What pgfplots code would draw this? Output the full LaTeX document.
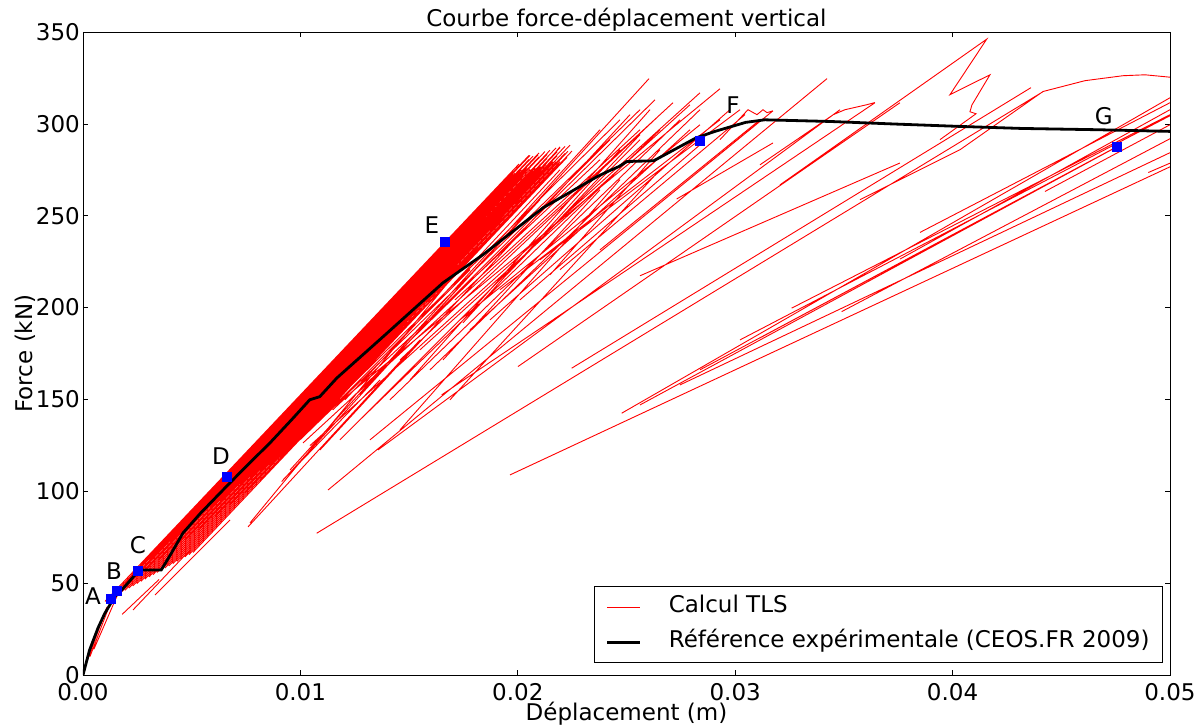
\documentclass[border=0pt]{standalone}
\usepackage{fontspec}
\setmainfont{DejaVu Sans}
\usepackage{pgfplots}
\pgfplotsset{compat=1.18}
\begin{document}
\begin{tikzpicture}[x=1pt,y=1pt]
\useasboundingbox (-83pt,-51pt) rectangle (1118pt,675pt);
\begin{axis}[
 at={(0pt,0pt)}, anchor=south west,
 scale only axis, width=1087pt, height=643pt,
 xmin=0, xmax=0.05, ymin=0, ymax=350,
 xtick={0,0.01,0.02,0.03,0.04,0.05},
 xticklabels={0.00,0.01,0.02,0.03,0.04,0.05},
 ytick={0,50,100,150,200,250,300,350},
 scaled x ticks=false,
 tick align=inside, major tick length=5pt,
 tick style={black, line width=0.6pt},
 axis line style={black, line width=0.8pt},
 ticklabel style={font=\fontsize{23}{27}\selectfont},
 /pgf/number format/assume math mode=true,
 xticklabel style={anchor=base, yshift=-25pt},
 yticklabel style={anchor=east, inner sep=0pt, xshift=-3pt},
 title={Courbe force-déplacement vertical},
 title style={font=\fontsize{23}{27}\selectfont, at={(axis description cs:0.5,1)}, anchor=base, yshift=-1pt},
 xlabel={Déplacement (m)},
 ylabel={Force (kN)},
 xlabel style={font=\fontsize{23}{27}\selectfont, at={(axis description cs:0.5,0)}, anchor=base, yshift=-45pt},
 ylabel style={font=\fontsize{23}{27}\selectfont, at={(axis description cs:0,0.5)}, anchor=center, yshift=58pt},
 unbounded coords=jump,
 legend cell align=left,
 legend image code/.code={\draw[#1] (0pt,0pt) -- (33pt,0pt);},
 legend style={at={(axis description cs:0.99356,0.01866)}, anchor=south east,
   draw=black, line width=0.8pt, font=\fontsize{23}{27}\selectfont,
   inner xsep=12pt, inner ysep=10pt, row sep=14pt,
   nodes={inner xsep=1pt, inner ysep=0pt, text height=16pt, text depth=5pt},
   /tikz/every odd column/.append style={column sep=26pt}},
]
% Calcul TLS
\addplot[red, line width=0.9pt] coordinates {
(0.00032,10) (0.00129,40) (nan,nan)
(0.0005,14) (0.0016,44) (nan,nan)
(0.00020,8) (0.00110,37) (nan,nan)
(0.001012,40.06) (0.011362,169.45) (nan,nan)
(0.009982,152.20) (0.020055,278.14) (nan,nan)
(0.001196,41.27) (0.011362,168.36) (nan,nan)
(0.009982,151.11) (0.020515,282.80) (nan,nan)
(0.001380,42.48) (0.011362,167.27) (nan,nan)
(0.009982,150.02) (0.019779,272.51) (nan,nan)
(0.001564,43.69) (0.011362,166.18) (nan,nan)
(0.009982,148.93) (0.020515,280.62) (nan,nan)
(0.001748,44.90) (0.011362,165.09) (nan,nan)
(0.009982,147.84) (0.020147,274.93) (nan,nan)
(0.001932,46.11) (0.011362,164.00) (nan,nan)
(0.009982,146.75) (0.020975,284.19) (nan,nan)
(0.002116,47.32) (0.011362,162.92) (nan,nan)
(0.009982,145.67) (0.020423,276.21) (nan,nan)
(0.002300,48.53) (0.011362,161.83) (nan,nan)
(0.009982,144.58) (0.020975,282.02) (nan,nan)
(0.002484,49.75) (0.011362,160.74) (nan,nan)
(0.009982,143.49) (0.020239,271.73) (nan,nan)
(0.002668,50.96) (0.011362,159.65) (nan,nan)
(0.009982,142.40) (0.021021,279.84) (nan,nan)
(0.002852,52.17) (0.011362,158.56) (nan,nan)
(0.009982,141.31) (0.021343,283.35) (nan,nan)
(0.003036,53.38) (0.011362,157.47) (nan,nan)
(0.009982,140.22) (0.020699,274.21) (nan,nan)
(0.003220,54.59) (0.011362,156.38) (nan,nan)
(0.009982,139.13) (0.021343,281.17) (nan,nan)
(0.003404,55.80) (0.011362,155.29) (nan,nan)
(0.009982,138.04) (0.021067,276.63) (nan,nan)
(0.003588,57.01) (0.011362,154.20) (nan,nan)
(0.009982,136.95) (0.021803,284.74) (nan,nan)
(0.003772,58.22) (0.011362,153.11) (nan,nan)
(0.009982,135.86) (0.020975,273.30) (nan,nan)
(0.003956,59.43) (0.011362,152.02) (nan,nan)
(0.009982,134.77) (0.021803,282.57) (nan,nan)
(0.004140,60.65) (0.011362,150.93) (nan,nan)
(0.009982,133.68) (0.021619,279.18) (nan,nan)
(0.004324,61.86) (0.011362,149.84) (nan,nan)
(0.009982,132.59) (0.021527,275.79) (nan,nan)
(0.004508,63.07) (0.011362,148.75) (nan,nan)
(0.009982,131.51) (0.022171,283.90) (nan,nan)
(0.004692,64.28) (0.011362,147.67) (nan,nan)
(0.009982,130.42) (0.021895,278.21) (nan,nan)
(0.004876,65.49) (0.011362,146.58) (nan,nan)
(0.009982,129.33) (0.022263,281.72) (nan,nan)
(0.005060,66.70) (0.011362,145.49) (nan,nan)
(0.009982,128.24) (0.021711,274.88) (nan,nan)
(0.002622,59.64) (0.019733,273.57) (nan,nan)
(0.001932,49.93) (0.020561,282.83) (nan,nan)
(0.003082,63.21) (0.019871,273.11) (nan,nan)
(0.002392,53.50) (0.020699,282.38) (nan,nan)
(0.004002,72.54) (0.020101,273.81) (nan,nan)
(0.002852,57.07) (0.020929,283.07) (nan,nan)
(0.004922,81.86) (0.020331,274.51) (nan,nan)
(0.003542,63.52) (0.021251,284.92) (nan,nan)
(0.005842,91.18) (0.020561,275.21) (nan,nan)
(0.004232,69.97) (0.021481,285.62) (nan,nan)
(0.006302,94.75) (0.020791,275.90) (nan,nan)
(0.004692,73.54) (0.021757,286.89) (nan,nan)
(0.007222,104.08) (0.021021,276.60) (nan,nan)
(0.005382,79.99) (0.021941,287.01) (nan,nan)
(0.007682,107.65) (0.021297,277.87) (nan,nan)
(0.006072,86.43) (0.022171,287.71) (nan,nan)
(0.008142,111.22) (0.021573,279.14) (nan,nan)
(0.006762,92.88) (0.022401,288.41) (nan,nan)
(0.008602,114.80) (0.021757,279.27) (nan,nan)
(0.007452,99.33) (0.022309,285.08) (nan,nan)
(0.009062,118.37) (0.021941,279.39) (nan,nan)
(0.008142,105.78) (0.022493,285.20) (nan,nan)
(0.007590,80.60) (0.015501,182.4) (nan,nan)
(0.009200,120.9) (0.018261,236.9) (nan,nan)
(0.009982,128.0) (0.017801,220.6) (nan,nan)
(0.010902,138.9) (0.020101,258.7) (nan,nan)
(0.012051,149.8) (0.021941,275.0) (nan,nan)
(0.012741,152.5) (0.021021,258.7) (nan,nan)
(0.003312,43.57) (0.006762,84.41) (nan,nan)
(0.002300,35.40) (0.004922,68.07) (nan,nan)
(0.001800,33.00) (0.003500,52.00) (nan,nan)
(0.009200,106.2) (0.013661,160.6) (nan,nan)
(0.016559,171.5) (0.023781,264.1) (nan,nan)
(0.019490,217.8) (0.025621,294.1) (nan,nan)
(0.021481,217.8) (0.026541,285.9) (nan,nan)
(0.017479,191.7) (0.024701,285.9) (nan,nan)
(0.009522,111.6) (0.023781,296.8) (nan,nan)
(0.010902,122.5) (0.025161,305.0) (nan,nan)
(0.011821,128.0) (0.025621,291.4) (nan,nan)
(0.012741,138.9) (0.026541,296.8) (nan,nan)
(0.014121,149.8) (0.027461,302.2) (nan,nan)
(0.015041,160.6) (0.026081,307.7) (nan,nan)
(0.015961,166.1) (0.028381,307.7) (nan,nan)
(0.017801,187.9) (0.027921,296.8) (nan,nan)
(0.018721,193.3) (0.029761,307.7) (nan,nan)
(0.020101,204.2) (0.028381,288.6) (nan,nan)
(0.021941,220.6) (0.030451,305.0) (nan,nan)
(0.023781,231.4) (0.031141,302.2) (nan,nan)
(0.014581,133.4) (0.024701,269.6) (nan,nan)
(0.016881,149.8) (0.026541,275.0) (nan,nan)
(0.009140,105.3) (0.026035,324.6) (nan,nan)
(0.007682,82.78) (0.021941,287.5) (nan,nan)
(0.010120,126.3) (0.027139,311.5) (nan,nan)
(0.010442,124.9) (0.028381,316.9) (nan,nan)
(0.011026,141.0) (0.029301,319.1) (nan,nan)
(0.011486,144.3) (0.023781,280.5) (nan,nan)
(0.009200,120.9) (0.024701,302.2) (nan,nan)
(0.009982,128.0) (0.025621,307.7) (nan,nan)
(0.012281,149.8) (0.026311,313.1) (nan,nan)
(0.014581,171.5) (0.026541,305.0) (nan,nan)
(0.015501,177.0) (0.027921,310.4) (nan,nan)
(0.017341,193.3) (0.028381,299.5) (nan,nan)
(0.019181,209.7) (0.029301,302.2) (nan,nan)
(0.021021,226.0) (0.030221,307.7) (nan,nan)
(0.015961,193.3) (0.024241,291.4) (nan,nan)
(0.017111,204.2) (0.025621,296.8) (nan,nan)
(0.011270,100.7) (0.034223,324.6) (nan,nan)
(0.010750,77.17) (0.044158,317.5) (nan,nan)
(0.013201,128.0) (0.031739,307.1) (nan,nan)
(0.013569,122.5) (0.034821,307.7) (nan,nan)
(0.016500,152.5) (0.036430,311.5) (nan,nan)
(0.020009,167.9) (0.037580,311.5) (nan,nan)
(0.022479,167.0) (0.043606,319.7) (nan,nan)
(0.024779,142.5) (0.05,314.2) (nan,nan)
(0.019641,108.9) (0.05,276.6) (nan,nan)
(0.032599,199.7) (0.05,305.0) (nan,nan)
(0.034899,197.8) (0.05,291.9) (nan,nan)
(0.038500,240.9) (0.05,311.5) (nan,nan)
(0.037581,226.4) (0.05,307.7) (nan,nan)
(0.025621,147.0) (0.047562,287.5) (nan,nan)
(0.028381,166.1) (0.047378,286.4) (nan,nan)
(0.031141,183.5) (0.047470,287.0) (nan,nan)
(0.027461,157.9) (0.05,284.3) (nan,nan)
(0.030221,182.4) (0.05,304.4) (nan,nan)
(0.049002,273.5) (0.05,278.6) (nan,nan)
(0.044250,263.2) (0.05,299.5) (nan,nan)
(0.027309,259.1) (0.031739,289.6) (nan,nan)
(0.025621,217.3) (0.037580,278.7) (nan,nan)
(0.035740,258.7) (0.040340,285.9) (0.044158,317.6) (0.046090,323.5) (0.047838,326.2) (0.048850,326.7) (0.05,325.4) (nan,nan)
(0.032061,266.8) (0.041570,346.1) (0.039880,315.9) (0.041720,326.7) (0.040890,310.3) (0.040800,306.6) (0.041080,305.5) (0.039420,291.4) (nan,nan)
(0.029301,291.4) (0.030589,307.7) (0.031003,305.0) (0.031279,307.7) (0.031463,306.1) (0.031739,307.1) (nan,nan)
(0.031141,277.7) (0.034513,305.0) (0.035051,307.7) (0.036049,310.4) (0.036430,311.6)
};
\addlegendentry{Calcul TLS}
% Reference
\addplot[black, line width=2.8pt] coordinates {
(0,0) (0.00030,13.5) (0.00069,25.6) (0.00100,33.5) (0.00146,42.6) (0.00180,46.5)
(0.00253,56.3) (0.00271,57.2) (0.00360,57.2) (0.00400,65.0) (0.00460,77.3)
(0.00540,88.0) (0.00644,100.7) (0.00750,113.5) (0.00859,126.2) (0.00960,139.0)
(0.01043,149.8) (0.01089,151.5) (0.01168,161.7) (0.01380,184.1) (0.01656,213.5)
(0.01840,228.8) (0.02116,254.3) (0.02364,271.2) (0.02414,274.1) (0.02466,276.8)
(0.02502,279.5) (0.02625,279.9) (0.02819,292.3) (0.02907,295.9) (0.03048,300.8)
(0.03136,302.2) (0.03436,301.3) (0.03735,299.9) (0.04034,298.6) (0.04317,297.5)
(0.04669,296.8) (0.05,295.9)
};
\addlegendentry{Référence expérimentale (CEOS.FR 2009)}
% points
\addplot[only marks, mark=square*, mark size=4.5pt, mark options={draw=blue, fill=blue}, forget plot] coordinates {
(0.00129,41.4) (0.00156,45.7) (0.00253,56.6) (0.00662,107.8) (0.01665,235.8) (0.02838,290.8) (0.04756,287.5)
};
\node[font=\fontsize{23}{27}\selectfont] at (axis cs:0.00046,43.0) {A};
\node[font=\fontsize{23}{27}\selectfont] at (axis cs:0.00143,56.6) {B};
\node[font=\fontsize{23}{27}\selectfont] at (axis cs:0.00253,70.8) {C};
\node[font=\fontsize{23}{27}\selectfont] at (axis cs:0.00635,119.3) {D};
\node[font=\fontsize{23}{27}\selectfont] at (axis cs:0.01605,245.1) {E};
\node[font=\fontsize{23}{27}\selectfont] at (axis cs:0.02990,310.4) {F};
\node[font=\fontsize{23}{27}\selectfont] at (axis cs:0.04696,304.4) {G};
\end{axis}
\end{tikzpicture}
\end{document}
